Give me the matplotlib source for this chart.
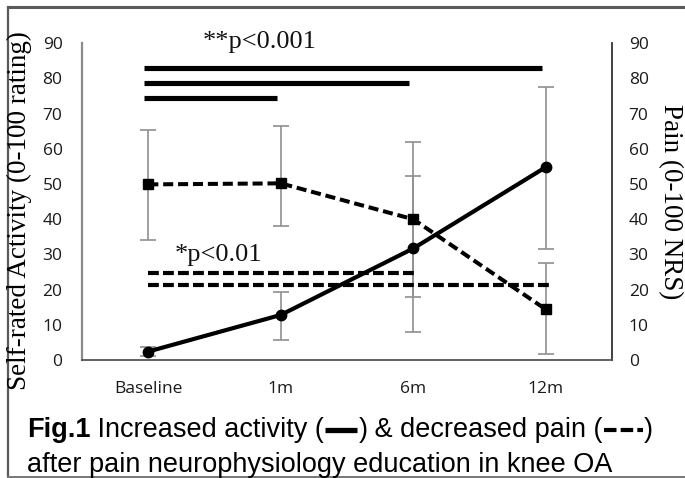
import matplotlib
matplotlib.use("Agg")
import matplotlib.pyplot as plt
from matplotlib.lines import Line2D

# ---------------- data ----------------
categories = ["Baseline", "1m", "6m", "12m"]
activity = [2.4, 12.8, 31.7, 54.8]
activity_low = [1.0, 5.7, 8.0, 31.6]
activity_high = [3.8, 19.4, 52.4, 77.7]
pain = [49.9, 50.2, 40.0, 14.4]
pain_low = [34.2, 38.0, 17.8, 1.7]
pain_high = [65.4, 66.5, 61.9, 27.5]
yticks = [0, 10, 20, 30, 40, 50, 60, 70, 80, 90]

# significance bars (level, end category) starting at Baseline
sig_solid_levels = [83.0, 78.8, 74.5]
sig_solid_ends = ["12m", "6m", "1m"]
sig_dash_levels = [24.6, 21.3]
sig_dash_ends = ["6m", "12m"]

W, H = 685, 478
fig = plt.figure(figsize=(W / 100, H / 100), dpi=100)
fig.patch.set_facecolor("white")

ax = fig.add_axes([82 / W, 1 - 360 / H, (612 - 82) / W, (360 - 43.3) / H])
ax.set_xlim(-0.5, 3.5)
ax.set_ylim(0, 90)
x = list(range(len(categories)))

# error bars (gray, behind)
ax.errorbar(x, activity,
            yerr=[[a - l for a, l in zip(activity, activity_low)],
                  [h - a for a, h in zip(activity, activity_high)]],
            fmt="none", ecolor="#8f8f8f", elinewidth=1.2, capsize=5.5,
            capthick=1.2, zorder=2)
ax.errorbar(x, pain,
            yerr=[[p - l for p, l in zip(pain, pain_low)],
                  [h - p for p, h in zip(pain, pain_high)]],
            fmt="none", ecolor="#8f8f8f", elinewidth=1.2, capsize=5.5,
            capthick=1.2, zorder=2)

# main series
ax.plot(x, activity, color="black", lw=3.0, marker="o", markersize=7.5,
        solid_capstyle="butt", zorder=4)
ax.plot(x, pain, color="black", lw=2.9, linestyle=(0, (2.5, 1.2)),
        marker="s", markersize=7.5, zorder=4)

# significance bars
for lvl, end in zip(sig_solid_levels, sig_solid_ends):
    ax.plot([x[0] - 0.03, categories.index(end) - 0.03], [lvl, lvl],
            color="black", lw=3.7, solid_capstyle="butt", zorder=3)
for lvl, end in zip(sig_dash_levels, sig_dash_ends):
    ax.plot([x[0], categories.index(end) + 0.03], [lvl, lvl], color="black",
            lw=3.0, linestyle=(0, (2.6, 1.0)), zorder=3)

ax.text(0.84, 90.4, "**p<0.001", fontsize=19, family="Liberation Serif",
        ha="center", va="center", color="#111111")
ax.text(0.53, 29.8, "*p<0.01", fontsize=19, family="Liberation Serif",
        ha="center", va="center", color="#111111")

# spines
ax.spines["top"].set_visible(False)
ax.spines["left"].set_color("#8a8a8a")
ax.spines["left"].set_linewidth(1.6)
ax.spines["bottom"].set_color("#555555")
ax.spines["bottom"].set_linewidth(1.3)
ax.spines["right"].set_color("#333333")
ax.spines["right"].set_linewidth(1.3)

tick_kw = dict(family="Open Sans", fontsize=12.5, color="#1a1a1a")
ax.set_xticks(x)
ax.set_xticklabels(categories, **tick_kw)
ax.set_yticks(yticks)
ax.set_yticklabels([str(v) for v in yticks], **tick_kw)
ax.tick_params(axis="x", length=0, pad=15)
ax.tick_params(axis="y", length=0, pad=14)

ax2 = ax.twinx()
ax2.set_ylim(0, 90)
ax2.set_yticks(yticks)
ax2.set_yticklabels([str(v) for v in yticks], **tick_kw)
ax2.tick_params(axis="y", length=0, pad=12)
for s in ["top", "left", "bottom", "right"]:
    ax2.spines[s].set_visible(False)

fig.text(19 / W, 1 - 211 / H, "Self-rated Activity (0-100 rating)",
         rotation=90, ha="center", va="center", fontsize=19.5,
         family="Liberation Serif")
fig.text(670 / W, 1 - 202 / H, "Pain (0-100 NRS)", rotation=270,
         ha="center", va="center", fontsize=19.5, family="Liberation Serif")

# frame
def px_line(xs, ys, **kw):
    fig.add_artist(Line2D([v / W for v in xs], [1 - v / H for v in ys],
                          transform=fig.transFigure, **kw))
px_line([8, 8], [7, 477], color="#5a5a5a", lw=1.6)
px_line([8, 690], [7, 7], color="#5a5a5a", lw=2.2)
px_line([8, 690], [477, 477], color="#777777", lw=1.4)

# caption with inline line glyphs
fig.canvas.draw()
r = fig.canvas.get_renderer()
cap_kw = dict(fontsize=19.5, family="Liberation Sans", color="black", va="baseline")
y1 = 1 - 437 / H
def put(s, xp, y, **kw):
    t = fig.text(xp / W, y, s, **cap_kw, **kw)
    bb = t.get_window_extent(r)
    return bb.x1
xp = 27
xp = put("Fig.1", xp, y1, weight="bold")
xp = put(" Increased activity (", xp, y1)
px_line([xp + 1, xp + 33], [430, 430], color="black", lw=3.8, solid_capstyle="butt")
xp = put(")", xp + 34, y1)
xp = put(" & decreased pain (", xp, y1)
px_line([xp + 1, xp + 40], [430, 430], color="black", lw=3.0,
        linestyle=(0, (3.0, 1.0)))
xp = put(")", xp + 41, y1)
fig.text(27 / W, 1 - 472 / H, "after pain neurophysiology education in knee OA",
         **cap_kw)

fig.savefig("out.png", dpi=100)
